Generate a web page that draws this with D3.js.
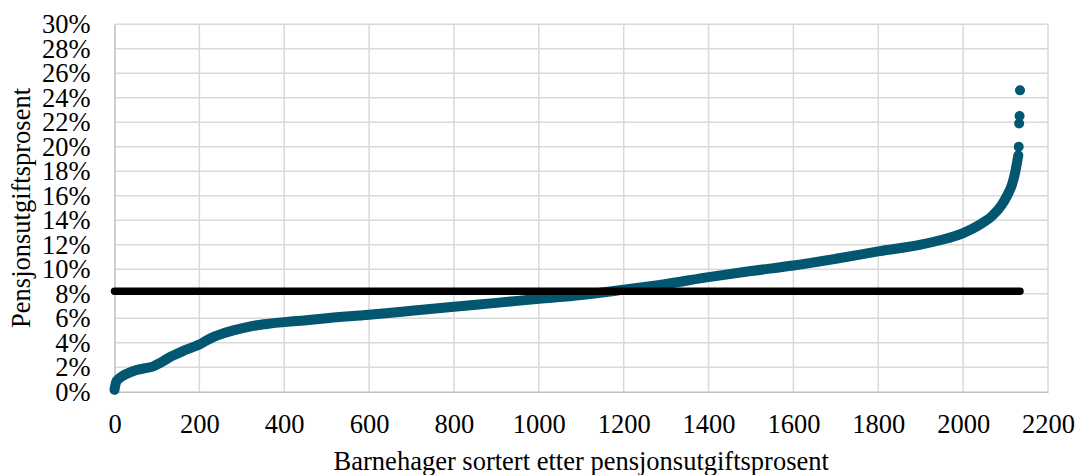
<!DOCTYPE html>
<html>
<head>
<meta charset="utf-8">
<script src="https://cdn.jsdelivr.net/npm/d3@7"></script>
<style>
  body { margin: 0; background: #fff; }
  svg { display: block; font-family: "Liberation Serif", "Times New Roman", serif; }
  svg text { font-family: "Liberation Serif", "Times New Roman", serif; }
</style>
</head>
<body>
<svg id="chart"></svg>
<script>
// sorted kindergartens: rank -> pension cost percentage
const ranks    = [0, 4, 10, 20, 35, 50, 70, 90, 110, 135, 160, 182, 200, 215, 235, 255, 280, 310, 340, 370, 400, 440, 500, 600, 700, 800, 900, 1000, 1100, 1200, 1300, 1400, 1500, 1600, 1700, 1800, 1900, 1950, 2000, 2040, 2070, 2090, 2105, 2115, 2122, 2127, 2130];
const percents = [0.15, 0.8, 1.05, 1.3, 1.55, 1.75, 1.9, 2.05, 2.4, 2.9, 3.3, 3.6, 3.85, 4.15, 4.5, 4.75, 5.0, 5.25, 5.45, 5.58, 5.68, 5.8, 6.0, 6.28, 6.6, 6.93, 7.25, 7.58, 7.9, 8.33, 8.8, 9.35, 9.85, 10.3, 10.85, 11.45, 12.0, 12.4, 12.95, 13.65, 14.4, 15.2, 16.1, 16.9, 17.8, 18.7, 19.3];
// highest values, seen as separate dots
const topRanks    = [2131, 2132, 2133, 2134];
const topPercents = [20.0, 21.9, 22.5, 24.6];
// reference level (black line)
const refLevel = 8.2;
const refRange = [0, 2134];

const xTicks = d3.range(0, 2201, 200);
const yTicks = d3.range(0, 31, 2);

const W = 1077, H = 475;
const margins = {t: 24.2, r: 29, b: 83.3, l: 114.5};
const size = {w: W - margins.l - margins.r, h: H - margins.t - margins.b};
const fontSize = '26.5px';
const serif = '"Liberation Serif", "Times New Roman", serif';

const svg = d3.select('#chart').attr('width', W).attr('height', H);
const g = svg.append('g').attr('transform', `translate(${margins.l},${margins.t})`);

const scaleX = d3.scaleLinear().domain([0, 2200]).range([0, size.w]);
const scaleY = d3.scaleLinear().domain([0, 30]).range([size.h, 0]);

// grid
g.append('g').selectAll('line').data(yTicks.slice(1)).join('line')
    .attr('x1', 0).attr('x2', size.w)
    .attr('y1', d => scaleY(d)).attr('y2', d => scaleY(d))
    .attr('stroke', '#d9d9d9').attr('stroke-width', 1.5);
g.append('g').selectAll('line').data(xTicks.slice(1)).join('line')
    .attr('x1', d => scaleX(d)).attr('x2', d => scaleX(d))
    .attr('y1', 0).attr('y2', size.h)
    .attr('stroke', '#d9d9d9').attr('stroke-width', 1.5);

// axes
const axisX = g.append('g')
    .attr('transform', `translate(0,${size.h})`)
    .call(d3.axisBottom(scaleX).tickValues(xTicks).tickFormat(d => String(d)).tickSize(0));
axisX.attr('font-family', serif);
axisX.select('.domain').attr('stroke', '#bfbfbf').attr('stroke-width', 1.5);
axisX.selectAll('text')
    .attr('y', 41).attr('dy', 0)
    .attr('fill', '#000').style('font-size', fontSize).style('font-family', serif);

const axisY = g.append('g')
    .call(d3.axisLeft(scaleY).tickValues(yTicks).tickFormat(d => d + '%').tickSize(0).tickPadding(24));
axisY.attr('font-family', serif);
axisY.select('.domain').attr('stroke', '#bfbfbf').attr('stroke-width', 1.5);
axisY.selectAll('text')
    .attr('fill', '#000').style('font-size', fontSize).style('font-family', serif);

// series
const line = d3.line()
    .x(d => scaleX(d[0]))
    .y(d => scaleY(d[1]))
    .curve(d3.curveMonotoneX);

g.append('path')
    .datum(ranks.map((r, i) => [r, percents[i]]))
    .attr('d', line)
    .attr('fill', 'none')
    .attr('stroke', '#02566f')
    .attr('stroke-width', 10)
    .attr('stroke-linecap', 'round')
    .attr('stroke-linejoin', 'round');

g.selectAll('circle.top')
    .data(topRanks.map((r, i) => [r, topPercents[i]]))
    .join('circle')
    .attr('class', 'top')
    .attr('cx', d => scaleX(d[0]))
    .attr('cy', d => scaleY(d[1]))
    .attr('r', 5)
    .attr('fill', '#02566f');

g.append('line')
    .attr('x1', scaleX(refRange[0])).attr('x2', scaleX(refRange[1]))
    .attr('y1', scaleY(refLevel)).attr('y2', scaleY(refLevel))
    .attr('stroke', '#000')
    .attr('stroke-width', 7.5)
    .attr('stroke-linecap', 'round');

// titles
svg.append('text')
    .attr('x', margins.l + size.w / 2)
    .attr('y', 470)
    .attr('text-anchor', 'middle')
    .style('font-size', fontSize)
    .text('Barnehager sortert etter pensjonsutgiftsprosent');

svg.append('text')
    .attr('transform', `translate(30,${margins.t + size.h / 2}) rotate(-90)`)
    .attr('text-anchor', 'middle')
    .style('font-size', fontSize)
    .text('Pensjonsutgiftsprosent');
</script>
</body>
</html>
